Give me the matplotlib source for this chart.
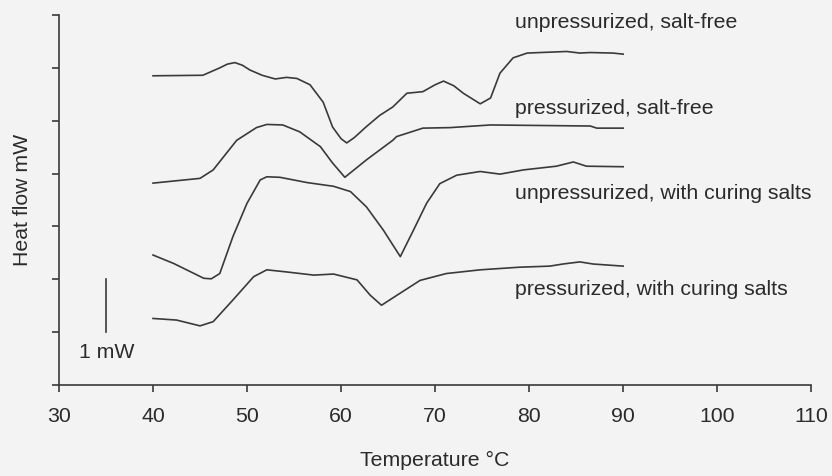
"""DSC heat-flow curves for pressurized / unpressurized samples."""
import matplotlib
matplotlib.use("Agg")
import matplotlib.pyplot as plt

plt.rcParams["font.family"] = ["Liberation Sans", "DejaVu Sans"]

LINE_COLOR = "#3a3a3a"
TEXT_COLOR = "#2b2b2b"
BG_COLOR = "#f3f3f3"
FONT_SIZE = 15.3

# temperature (°C) and heat flow (mW, offset)
unpress_free_t = [40.0, 45.3, 46.2, 47.1, 47.9, 48.7, 49.5, 50.3, 51.6, 53.0, 54.2, 55.3,
                  56.7, 58.1, 59.1, 60.0, 60.6, 61.4, 62.7, 64.1, 65.5, 67.0, 68.7, 70.0,
                  70.9, 72.0, 73.0, 74.8, 75.9, 76.9, 78.3, 79.8, 84.0, 85.4, 86.5, 88.9,
                  90.0]
unpress_free_y = [5.85, 5.86, 5.93, 6.00, 6.07, 6.10, 6.05, 5.96, 5.86, 5.79, 5.82, 5.80,
                  5.68, 5.35, 4.88, 4.66, 4.58, 4.68, 4.89, 5.10, 5.26, 5.52, 5.55, 5.68,
                  5.75, 5.66, 5.52, 5.32, 5.43, 5.90, 6.19, 6.28, 6.31, 6.28, 6.29, 6.28,
                  6.26]

press_free_t = [40.0, 45.0, 46.4, 48.9, 51.0, 52.1, 53.8, 55.6, 57.8, 59.1, 60.4, 62.7,
                65.5, 65.9, 68.7, 71.6, 75.9, 86.5, 87.2, 90.0]
press_free_y = [3.82, 3.91, 4.07, 4.63, 4.87, 4.93, 4.92, 4.79, 4.51, 4.20, 3.93, 4.26,
                4.63, 4.70, 4.86, 4.87, 4.92, 4.90, 4.86, 4.86]

unpress_salt_t = [40.0, 42.2, 45.4, 46.2, 47.1, 48.5, 50.0, 51.4, 52.1, 53.5, 56.4, 59.2,
                  61.0, 62.7, 64.5, 66.3, 67.7, 69.1, 70.5, 72.3, 74.8, 76.9, 79.4, 82.9,
                  84.7, 86.1, 90.0]
unpress_salt_y = [2.46, 2.30, 2.02, 2.01, 2.11, 2.81, 3.44, 3.88, 3.94, 3.93, 3.83, 3.76,
                  3.66, 3.37, 2.93, 2.43, 2.93, 3.44, 3.81, 3.97, 4.04, 3.99, 4.07, 4.14,
                  4.22, 4.14, 4.13]

press_salt_t = [40.0, 42.5, 45.0, 46.4, 48.5, 50.7, 52.1, 54.2, 57.1, 59.2, 61.7, 63.1,
                64.3, 66.3, 68.4, 71.2, 74.8, 79.0, 82.2, 83.6, 85.4, 86.8, 90.0]
press_salt_y = [1.26, 1.23, 1.12, 1.20, 1.61, 2.05, 2.18, 2.14, 2.08, 2.10, 1.99, 1.70,
                1.51, 1.74, 1.98, 2.11, 2.18, 2.23, 2.25, 2.29, 2.33, 2.29, 2.25]

labels = ["unpressurized, salt-free", "pressurized, salt-free",
          "unpressurized, with curing salts", "pressurized, with curing salts"]
label_y = [6.86, 5.24, 3.63, 1.80]

x_ticks = [30, 40, 50, 60, 70, 80, 90, 100, 110]
y_ticks = [0, 1, 2, 3, 4, 5, 6, 7]


def main() -> None:
    fig = plt.figure(figsize=(8.32, 4.76), dpi=100, facecolor=BG_COLOR)
    ax = fig.add_axes([0.0709, 0.191, 0.9041, 0.7775], facecolor=BG_COLOR)

    series = [(unpress_free_t, unpress_free_y), (press_free_t, press_free_y),
              (unpress_salt_t, unpress_salt_y), (press_salt_t, press_salt_y)]
    for t, y in series:
        ax.plot(t, y, color=LINE_COLOR, linewidth=1.2, solid_joinstyle="round")

    for text, y in zip(labels, label_y):
        ax.text(78.5, y, text, ha="left", va="center", fontsize=FONT_SIZE, color=TEXT_COLOR)

    # 1 mW scale bar
    ax.plot([35.0, 35.0], [1.0, 2.0], color=LINE_COLOR, linewidth=1.2)
    ax.text(32.1, 0.62, "1 mW", ha="left", va="center", fontsize=FONT_SIZE, color=TEXT_COLOR)

    ax.set_xlim(30, 110)
    ax.set_ylim(0, 7)
    ax.set_xticks(x_ticks)
    ax.set_yticks(y_ticks)
    ax.set_yticklabels([])
    ax.spines["top"].set_visible(False)
    ax.spines["right"].set_visible(False)
    for side in ["left", "bottom"]:
        ax.spines[side].set_color(LINE_COLOR)
        ax.spines[side].set_linewidth(1.2)
    ax.tick_params(axis="both", direction="out", length=5, width=1.2, color=LINE_COLOR,
                   labelsize=FONT_SIZE, labelcolor=TEXT_COLOR)
    ax.tick_params(axis="x", pad=11)

    ax.set_xlabel("Temperature °C", fontsize=FONT_SIZE, color=TEXT_COLOR)
    ax.xaxis.set_label_coords(0.5, -0.205)
    ax.xaxis.label.set_va("center")
    ax.set_ylabel("Heat flow mW", fontsize=FONT_SIZE, color=TEXT_COLOR)
    ax.yaxis.set_label_coords(-0.049, 0.5)
    ax.yaxis.label.set_va("center")

    fig.savefig("out.png", dpi=100, facecolor=BG_COLOR)
    plt.close(fig)


if __name__ == "__main__":
    main()
